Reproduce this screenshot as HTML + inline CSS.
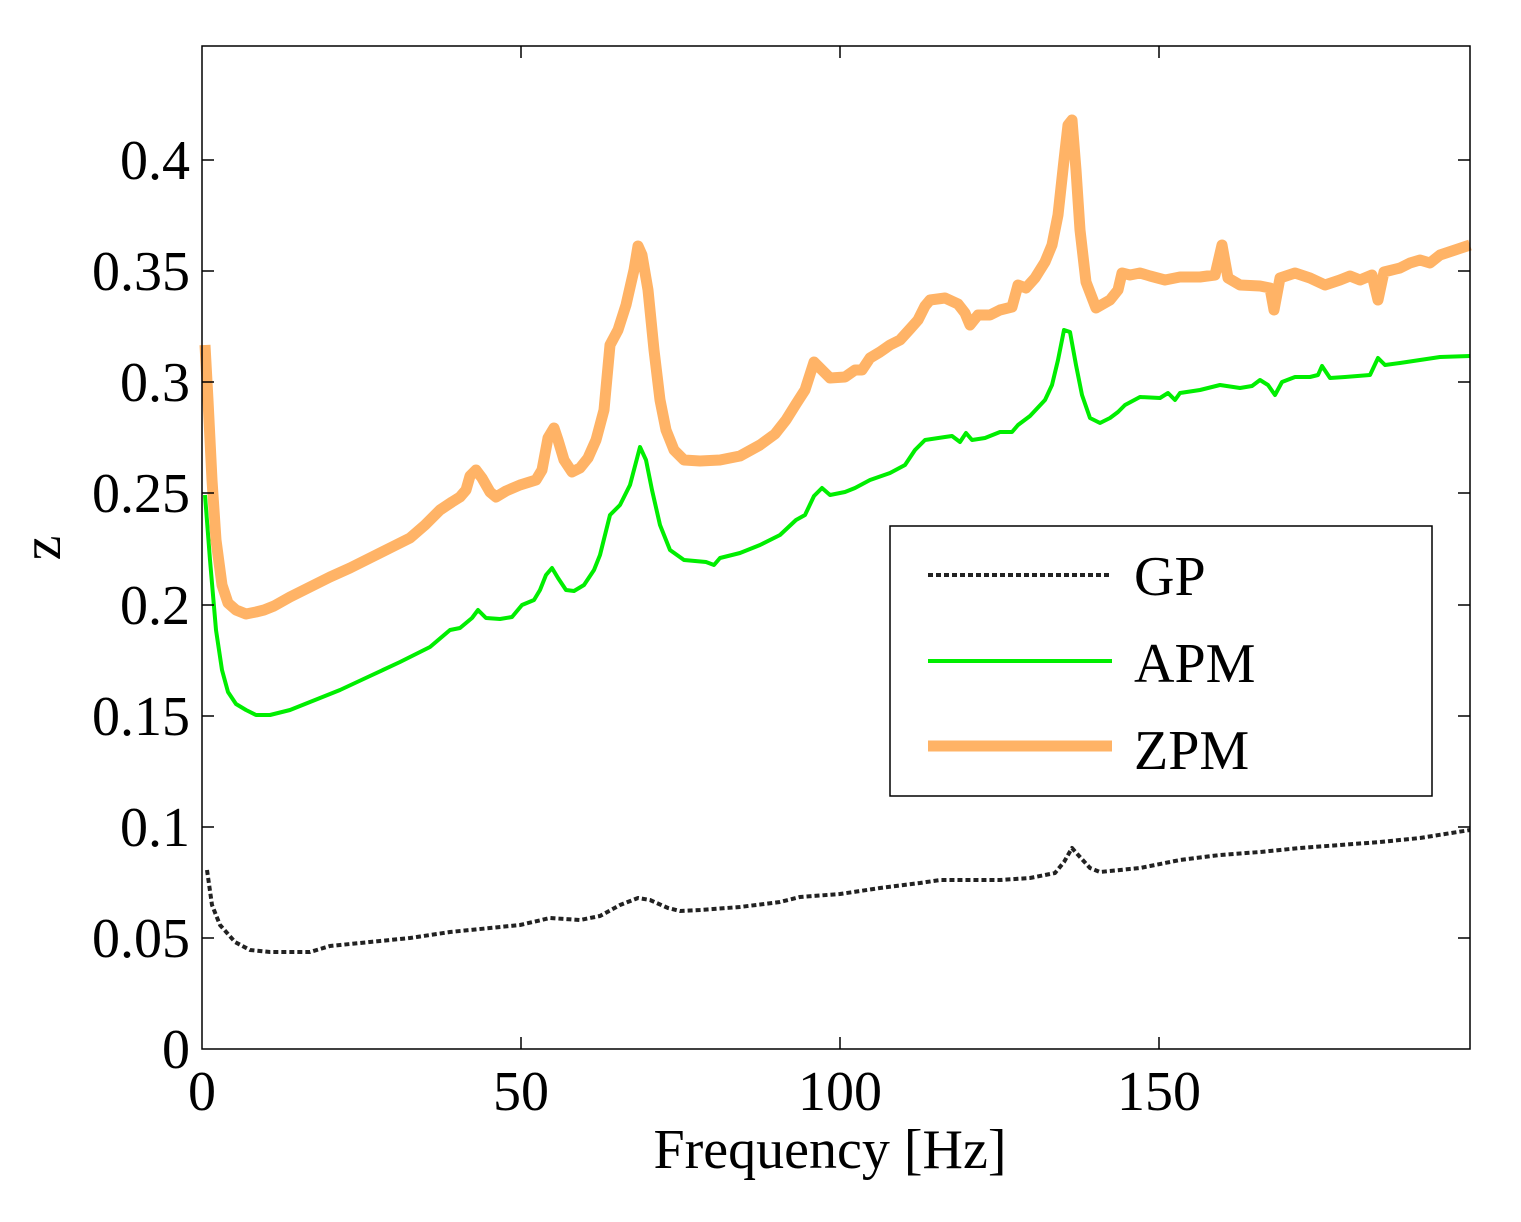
<!DOCTYPE html>
<html><head><meta charset="utf-8"><style>body{margin:0;background:#fff}svg{display:block}</style></head><body>
<svg width="1521" height="1222" xmlns="http://www.w3.org/2000/svg" font-family="Liberation Serif, serif">
<rect width="1521" height="1222" fill="#fff"/>
<g fill="none" stroke-linejoin="round">
<polyline stroke="#222" stroke-width="4" stroke-dasharray="5,3" points="207,870 212,905 220,925 235,942 250,950 270,952 310,952 330,946 370,942 410,938 450,932 490,928 520,925 550,918 580,920 600,916 620,905 638,898 650,900 668,908 680,911 700,910 740,907 780,902 800,897 840,894 880,888 920,883 940,880 1000,880 1030,878 1055,873 1064,862 1072,848 1080,857 1090,868 1100,872 1140,868 1180,860 1220,855 1260,852 1300,848 1340,845 1380,842 1420,838 1470,830"/>
<polyline stroke="#00ee00" stroke-width="4" points="205,495 210,560 216,630 222,670 228,692 236,704 246,710 256,715 270,715 290,710 310,702 340,690 370,676 400,662 430,647 450,630 460,628 472,618 478,610 486,618 500,619 512,617 522,605 534,600 540,590 546,575 552,568 558,578 566,590 574,591 584,585 594,570 600,555 610,515 620,505 630,485 640,447 646,460 652,490 660,525 670,550 684,560 706,562 714,565 720,558 740,553 760,545 780,535 796,520 805,515 814,496 822,488 830,495 845,492 855,488 870,480 890,473 905,465 915,450 925,440 945,437 952,436 960,442 966,433 972,440 985,438 1000,432 1012,432 1018,425 1030,416 1045,400 1052,385 1058,360 1064,330 1070,332 1076,365 1082,395 1090,418 1100,423 1110,418 1118,412 1125,405 1140,397 1160,398 1168,393 1175,400 1180,393 1200,390 1220,385 1240,388 1252,386 1260,380 1268,385 1275,395 1282,382 1295,377 1310,377 1318,375 1322,366 1330,378 1345,377 1370,375 1378,358 1385,365 1400,363 1420,360 1440,357 1470,356"/>
<polyline stroke="#ffb366" stroke-width="11" points="205,345 208,400 212,480 216,540 222,585 228,603 236,610 246,614 256,612 264,610 274,606 290,597 310,587 330,577 350,568 370,558 390,548 410,538 425,525 440,510 452,502 460,497 466,490 470,476 476,470 482,478 490,492 496,497 506,491 520,485 536,480 542,470 548,438 554,428 558,440 564,460 572,472 580,468 588,458 596,440 604,410 610,345 618,330 626,305 634,270 638,246 642,255 648,290 654,350 660,400 666,430 674,450 684,460 700,461 720,460 740,456 760,445 775,434 786,420 796,404 805,390 814,362 820,368 830,378 845,377 855,370 862,370 870,358 880,352 890,345 900,340 910,329 918,320 925,306 930,300 945,298 958,304 965,313 970,325 978,315 990,315 1000,310 1012,307 1018,285 1026,288 1035,278 1045,262 1052,245 1058,215 1064,160 1068,125 1072,120 1076,170 1080,230 1086,282 1096,308 1110,300 1118,290 1122,273 1130,275 1140,273 1150,276 1165,280 1180,277 1200,277 1215,275 1222,245 1228,278 1240,285 1260,286 1270,288 1274,310 1280,278 1295,273 1310,278 1325,285 1340,280 1350,276 1360,280 1372,275 1378,300 1384,272 1400,268 1410,263 1420,260 1430,263 1440,255 1455,250 1470,245"/>
</g>
<rect x="202" y="46" width="1268" height="1003" fill="none" stroke="#000" stroke-width="1.5"/>
<g stroke="#000" stroke-width="1.5">
<path d="M521,1049v-12M840,1049v-12M1159,1049v-12M521,46v12M840,46v12M1159,46v12"/>
<path d="M202,938h12M202,827h12M202,716h12M202,605h12M202,493h12M202,382h12M202,271h12M202,160h12M1470,938h-12M1470,827h-12M1470,716h-12M1470,605h-12M1470,493h-12M1470,382h-12M1470,271h-12M1470,160h-12"/>
</g>
<g font-size="56" text-anchor="end" fill="#000">
<text x="190" y="1068">0</text><text x="190" y="957">0.05</text><text x="190" y="846">0.1</text><text x="190" y="735">0.15</text><text x="190" y="624">0.2</text><text x="190" y="512">0.25</text><text x="190" y="401">0.3</text><text x="190" y="290">0.35</text><text x="190" y="179">0.4</text>
</g>
<g font-size="56" text-anchor="middle" fill="#000">
<text x="202" y="1110">0</text><text x="521" y="1110">50</text><text x="840" y="1110">100</text><text x="1159" y="1110">150</text>
<text x="830" y="1168">Frequency [Hz]</text>
<text transform="translate(60,548) rotate(-90)">z</text>
</g>
<rect x="890" y="526" width="542" height="270" fill="#fff" stroke="#000" stroke-width="1.5"/>
<line x1="928" y1="575" x2="1112" y2="575" stroke="#222" stroke-width="4" stroke-dasharray="5,3"/>
<line x1="928" y1="661" x2="1112" y2="661" stroke="#00ee00" stroke-width="4"/>
<line x1="928" y1="746" x2="1112" y2="746" stroke="#ffb366" stroke-width="11"/>
<g font-size="56" fill="#000"><text x="1134" y="595">GP</text><text x="1134" y="682">APM</text><text x="1134" y="769">ZPM</text></g>
</svg>
</body></html>
